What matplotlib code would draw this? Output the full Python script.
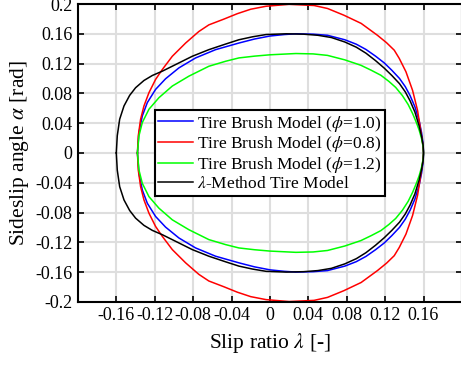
import numpy as np
import matplotlib
matplotlib.use("Agg")
import matplotlib.pyplot as plt

# upper branches (slip ratio, sideslip angle); lower half mirrors them
black_lam = [-0.160, -0.159, -0.1565, -0.152, -0.1461, -0.1399, -0.1312, -0.1225, -0.1121, -0.0982,
             -0.0809, -0.0636, -0.0462, -0.0323, -0.018, -0.004, 0.017, 0.035, 0.050, 0.064,
             0.078, 0.090, 0.100, 0.110, 0.119, 0.127, 0.135, 0.141, 0.146, 0.151,
             0.1555, 0.158, 0.1596, 0.160]
black_alp = [0.000, 0.0231, 0.0453, 0.0631, 0.0773, 0.0876, 0.0973, 0.104, 0.1098, 0.1187,
             0.1298, 0.1387, 0.1462, 0.152, 0.156, 0.159, 0.160, 0.1595, 0.158, 0.155,
             0.149, 0.142, 0.134, 0.124, 0.114, 0.104, 0.093, 0.082, 0.070, 0.055,
             0.036, 0.022, 0.010, 0.000]

blue_lam = [-0.138, -0.1364, -0.1329, -0.1277, -0.1191, -0.1087, -0.0948, -0.0774, -0.0566, -0.0323,
            -0.016, 0.000, 0.015, 0.027, 0.045, 0.060, 0.078, 0.090, 0.100, 0.110,
            0.119, 0.127, 0.135, 0.141, 0.146, 0.151, 0.1555, 0.158, 0.1596, 0.160]
blue_alp = [0.000, 0.0276, 0.0498, 0.0676, 0.0853, 0.0996, 0.1142, 0.1276, 0.1387, 0.1476,
            0.153, 0.157, 0.159, 0.160, 0.1595, 0.158, 0.152, 0.146, 0.139, 0.130,
            0.121, 0.111, 0.100, 0.089, 0.077, 0.062, 0.043, 0.027, 0.012, 0.000]

red_lam = [-0.138, -0.1371, -0.1347, -0.1312, -0.126, -0.1191, -0.1121, -0.1017, -0.0878, -0.074,
           -0.0636, -0.048, -0.034, -0.020, -0.004, 0.020, 0.046, 0.060, 0.077, 0.095,
           0.112, 0.1215, 0.1295, 0.1347, 0.1417, 0.1486, 0.1538, 0.157, 0.1592, 0.160]
red_alp = [0.000, 0.0231, 0.0453, 0.0631, 0.0809, 0.0987, 0.112, 0.1298, 0.1476, 0.1631,
           0.172, 0.1797, 0.187, 0.193, 0.197, 0.1996, 0.198, 0.194, 0.185, 0.174,
           0.158, 0.148, 0.138, 0.127, 0.109, 0.084, 0.057, 0.0305, 0.012, 0.000]

green_lam = [-0.138, -0.1364, -0.1329, -0.126, -0.1156, -0.1017, -0.0844, -0.0636, -0.0462, -0.0323,
             -0.016, 0.000, 0.027, 0.045, 0.060, 0.078, 0.0948, 0.1056, 0.1156, 0.1240,
             0.1310, 0.1380, 0.1440, 0.1486, 0.1525, 0.1555, 0.158, 0.1596, 0.160]
green_alp = [0.000, 0.0231, 0.0409, 0.0587, 0.0742, 0.0898, 0.1031, 0.1164, 0.1231, 0.1276,
             0.130, 0.1318, 0.1335, 0.133, 0.131, 0.125, 0.1177, 0.111, 0.1043, 0.096,
             0.088, 0.077, 0.065, 0.053, 0.041, 0.0305, 0.019, 0.008, 0.000]

labels = [r"Tire Brush Model ($\phi$=1.0)", r"Tire Brush Model ($\phi$=0.8)",
          r"Tire Brush Model ($\phi$=1.2)", r"$\lambda$-Method Tire Model"]
xticks = [-0.16, -0.12, -0.08, -0.04, 0, 0.04, 0.08, 0.12, 0.16]
yticks = [-0.2, -0.16, -0.12, -0.08, -0.04, 0, 0.04, 0.08, 0.12, 0.16, 0.2]

plt.rcParams["font.family"] = ["Liberation Serif", "DejaVu Serif"]
plt.rcParams["mathtext.fontset"] = "stix"


def closed(lam, alp):
    lam = np.asarray(lam)
    alp = np.asarray(alp)
    return np.concatenate([lam, lam[::-1]]), np.concatenate([alp, -alp[::-1]])


fig = plt.figure(figsize=(4.61, 3.65), dpi=100)
ax = fig.add_axes([0.169, 0.173, 0.833, 0.816])

curves = [(blue_lam, blue_alp, "#0000ff"), (red_lam, red_alp, "#ff0000"),
          (green_lam, green_alp, "#00ff00"), (black_lam, black_alp, "#000000")]
for (lam, alp, col), lab in zip(curves, labels):
    x, y = closed(lam, alp)
    ax.plot(x, y, color=col, linewidth=1.1, label=lab, solid_joinstyle="round")

ax.set_xlim(-0.2, 0.2)
ax.set_ylim(-0.2, 0.2)
ax.set_xticks(xticks)
ax.set_yticks(yticks)
ax.set_xticklabels([("%g" % t) for t in xticks])
ax.set_yticklabels([("%g" % t) for t in yticks])
ax.tick_params(direction="in", length=4, width=1.2, top=True, right=True,
               labelsize=13, colors="black", pad=4)
ax.grid(True, color="#dedede", linewidth=1.5)
ax.set_axisbelow(True)
for sp in ax.spines.values():
    sp.set_linewidth(1.5)

ax.set_xlabel(r"Slip ratio $\lambda$ [-]", fontsize=15.5, labelpad=5)
ax.set_ylabel(r"Sideslip angle $\alpha$ [rad]", fontsize=15.5, labelpad=3)

leg = ax.legend(loc="upper left", bbox_to_anchor=(0.2005, 0.644), fontsize=12.5,
                frameon=True, fancybox=False, framealpha=1, edgecolor="black",
                handlelength=2.0, handletextpad=0.25, borderpad=0.2,
                labelspacing=0.05, borderaxespad=0)
leg.get_frame().set_linewidth(1.5)

plt.savefig("out.png", dpi=100)
plt.close()
